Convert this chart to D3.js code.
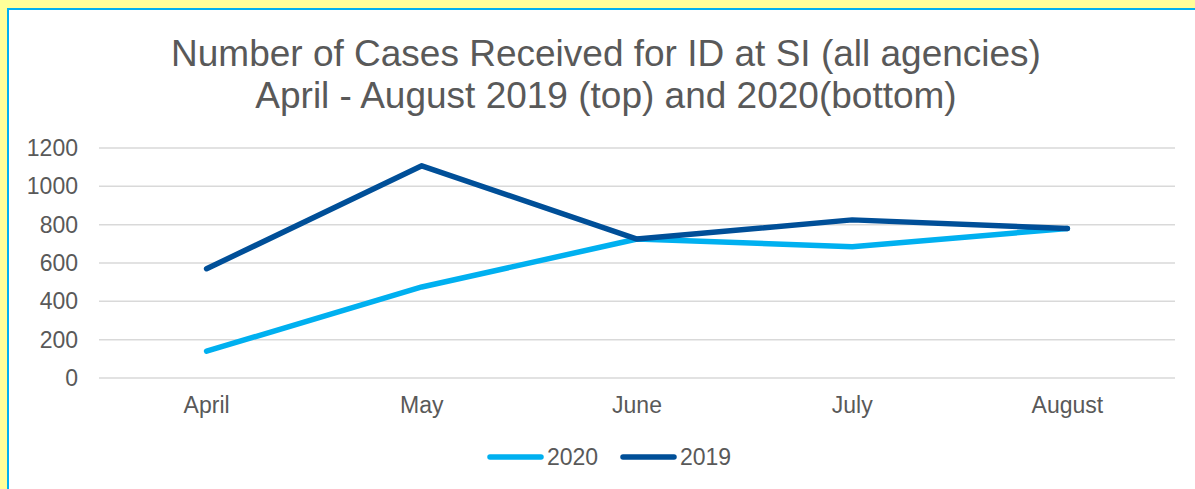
<!DOCTYPE html>
<html>
<head>
<meta charset="utf-8">
<script src="https://d3js.org/d3.v7.min.js"></script>
<style>
  body { margin: 0; background: #FFFF99; }
  svg { display: block; }
</style>
</head>
<body>
<div id="chart"></div>
<script>
  // data
  const months = ['April', 'May', 'June', 'July', 'August'];
  const cases2020 = [140, 475, 725, 685, 780];
  const cases2019 = [570, 1107, 725, 825, 780];
  const yTicks = [0, 200, 400, 600, 800, 1000, 1200];
  const titleLines = ['Number of Cases Received for ID at SI (all agencies)', 'April - August 2019 (top) and 2020(bottom)'];

  const width = 1195;
  const height = 489;
  const font = 'Arial, "Liberation Sans", sans-serif';
  const textColor = '#595959';

  const svg = d3.select('#chart').append('svg')
    .attr('width', width)
    .attr('height', height);

  // yellow surround + white chart box with cyan edge
  svg.append('rect').attr('width', width).attr('height', height).attr('fill', '#FFFF99');
  svg.append('rect')
    .attr('x', 8).attr('y', 9)
    .attr('width', width).attr('height', height)
    .attr('fill', '#fff')
    .attr('stroke', '#00B0F0')
    .attr('stroke-width', 2);

  // title
  svg.append('text')
    .attr('x', 606).attr('y', 66)
    .attr('text-anchor', 'middle')
    .style('font-family', font).style('font-size', '37px').style('fill', textColor)
    .selectAll('tspan')
    .data(titleLines)
    .join('tspan')
      .attr('x', 606)
      .attr('dy', (d, i) => i === 0 ? 0 : 42)
      .text(d => d);

  const x = d3.scaleBand().domain(months).range([99, 1175]);
  const y = d3.scaleLinear().domain([0, 1200]).range([378, 148]);

  // gridlines
  svg.append('g')
    .selectAll('line')
    .data(yTicks)
    .join('line')
      .attr('x1', 99).attr('x2', 1175)
      .attr('y1', d => y(d)).attr('y2', d => y(d))
      .attr('stroke', '#D9D9D9')
      .attr('stroke-width', 1.5);

  // y axis labels
  const yAxis = svg.append('g')
    .attr('transform', 'translate(78,0)')
    .call(d3.axisLeft(y).tickValues(yTicks).tickFormat(d3.format('d')).tickSize(0).tickPadding(0));
  yAxis.select('.domain').remove();
  yAxis.selectAll('text')
    .style('font-family', font).style('font-size', '23px').style('fill', textColor);

  // x axis labels
  const xAxis = svg.append('g')
    .attr('transform', 'translate(0,413)')
    .call(d3.axisBottom(x).tickSize(0).tickPadding(0));
  xAxis.select('.domain').remove();
  xAxis.selectAll('text')
    .attr('y', 0)
    .attr('dy', 0)
    .style('font-family', font).style('font-size', '23px').style('fill', textColor);

  const line = d3.line()
    .x((d, i) => x(months[i]) + x.bandwidth() / 2)
    .y(d => y(d));

  const series = [
    { name: '2020', values: cases2020, color: '#00B0F0' },
    { name: '2019', values: cases2019, color: '#004F98' }
  ];

  svg.append('g')
    .selectAll('path')
    .data(series)
    .join('path')
      .attr('d', d => line(d.values))
      .attr('fill', 'none')
      .attr('stroke', d => d.color)
      .attr('stroke-width', 5.5)
      .attr('stroke-linejoin', 'round')
      .attr('stroke-linecap', 'round');

  // legend
  const legend = svg.append('g')
    .selectAll('g')
    .data(series)
    .join('g')
      .attr('transform', (d, i) => `translate(${490 + i * 133},457)`);
  legend.append('line')
    .attr('x1', 0).attr('x2', 51)
    .attr('stroke', d => d.color)
    .attr('stroke-width', 5.5)
    .attr('stroke-linecap', 'round');
  legend.append('text')
    .attr('x', 57).attr('y', 8)
    .style('font-family', font).style('font-size', '23px').style('fill', textColor)
    .text(d => d.name);
</script>
</body>
</html>
